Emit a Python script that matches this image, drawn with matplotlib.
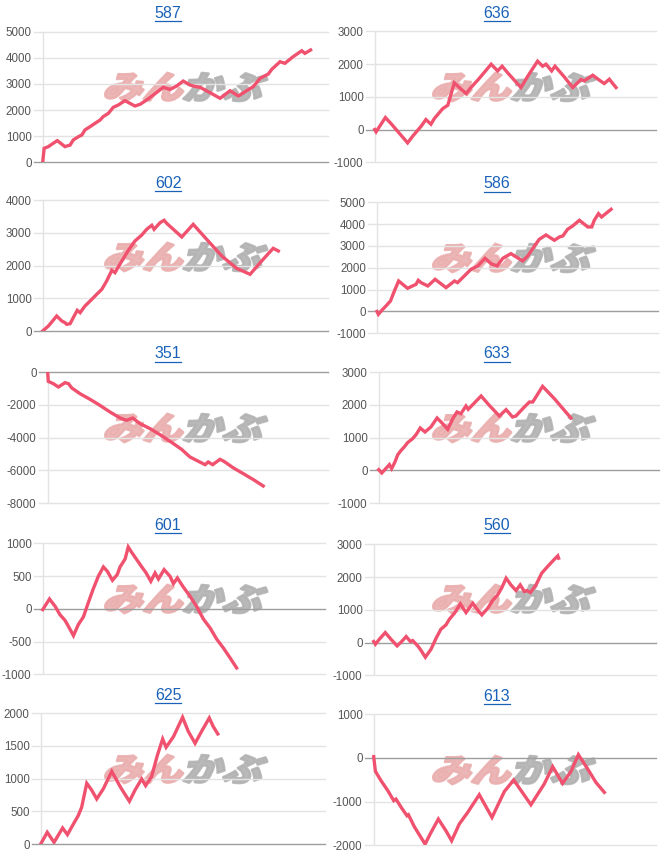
import matplotlib
matplotlib.use("Agg")
import matplotlib.pyplot as plt
from matplotlib.textpath import TextPath
from matplotlib.patches import PathPatch
from matplotlib.font_manager import FontProperties
from matplotlib.transforms import Affine2D, IdentityTransform
from matplotlib.lines import Line2D

# ---- data: cumulative result per chart (x = trade progress 0..100) ----
titles = ["587", "636", "602", "586", "351", "633", "601", "560", "625", "613"]

x587 = [0, 0.5, 2.0, 3.7, 5.1, 7.8, 9.6, 10.7, 12.5, 13.7, 14.8, 16.6, 18.3, 20.1, 21.2, 23.0,
        24.7, 26.5, 28.8, 32.3, 34.1, 36.4, 38.7, 42.2, 44.6, 46.9, 49.2, 51.6, 52.7, 55.1,
        58.6, 62.1, 65.6, 68.5, 71.4, 73.7, 76.1, 79.0, 80.2, 83.1, 84.8, 87.7, 90.7, 91.8, 93.8]
y587 = [0, 536, 600, 730, 830, 600, 660, 855, 980, 1045, 1240, 1365, 1490, 1620, 1750, 1875,
        2105, 2195, 2360, 2155, 2220, 2385, 2575, 2870, 2790, 2920, 3110, 2960, 2920, 2870,
        2665, 2450, 2740, 2540, 2740, 2895, 3215, 3380, 3560, 3850, 3790, 4045, 4270, 4170, 4300]

x636 = [0, 0.5, 2.0, 3.8, 5.8, 11.7, 13.5, 15.3, 16.5, 18.2, 20.0, 21.2, 24.2, 26.0, 28.3, 30.1,
        32.5, 34.2, 36.6, 41.4, 43.7, 45.3, 47.3, 52.0, 54.4, 57.9, 59.7, 60.9, 62.9, 64.1,
        67.4, 70.4, 73.3, 74.5, 77.5, 79.9, 81.6, 83.4, 85.8]
y636 = [0, -70, 130, 366, 183, -407, -204, -20, 100, 305, 163, 336, 641, 743, 1425, 1282,
        1099, 1282, 1506, 1995, 1791, 1934, 1730, 1282, 1628, 2087, 1934, 1995, 1791, 1934,
        1608, 1282, 1527, 1486, 1659, 1506, 1405, 1537, 1282]

x602 = [0, 2.0, 4.9, 6.7, 7.8, 8.4, 9.6, 10.7, 12.1, 13.1, 14.8, 16.6, 18.9, 20.7, 22.4, 24.2,
        25.3, 27.7, 30.0, 32.3, 34.7, 36.4, 38.2, 39.0, 41.1, 42.5, 43.4, 48.7, 52.7, 57.4,
        62.7, 67.9, 72.6, 77.2, 80.7, 82.5]
y602 = [0, 153, 459, 306, 255, 204, 224, 408, 633, 561, 765, 918, 1122, 1276, 1531, 1857,
        1786, 2143, 2469, 2755, 2939, 3112, 3235, 3112, 3316, 3388, 3296, 2878, 3265, 2806,
        2296, 1918, 1735, 2194, 2531, 2449]

x586 = [0, 0.5, 1.7, 3.2, 4.8, 6.2, 7.7, 10.9, 13.9, 14.7, 15.7, 18.1, 20.7, 24.6, 27.6, 28.7,
        30.5, 33.5, 35.9, 38.5, 40.6, 42.8, 44.8, 47.7, 51.9, 53.7, 56.1, 57.8, 60.2, 63.2,
        65.0, 66.2, 67.9, 69.7, 72.1, 75.1, 76.5, 77.4, 78.9, 80.0, 83.4]
y586 = [0, -130, 53, 252, 481, 939, 1397, 1061, 1244, 1427, 1321, 1168, 1473, 1092, 1397, 1321,
        1550, 1931, 2084, 2435, 2191, 2084, 2435, 2649, 2313, 2542, 2999, 3305, 3504, 3260,
        3413, 3458, 3764, 3916, 4176, 3870, 3870, 4176, 4481, 4328, 4679]

x351 = [0, 0.2, 2.0, 3.8, 6.2, 7.4, 8.6, 11.5, 15.1, 18.6, 22.2, 25.8, 28.1, 30.3, 32.9, 36.5,
        40.0, 43.6, 47.7, 50.7, 53.7, 56.1, 57.2, 58.8, 61.4, 62.8, 66.2, 69.7, 73.3, 76.8]
y351 = [0, -569, -711, -914, -650, -711, -975, -1320, -1665, -2030, -2437, -2802, -2944, -2802,
        -3147, -3452, -3817, -4223, -4711, -5178, -5442, -5645, -5482, -5645, -5320, -5442,
        -5848, -6193, -6558, -6944]

x633 = [0, 1.1, 2.3, 3.8, 4.6, 5.8, 6.8, 8.0, 9.1, 10.3, 12.1, 13.3, 14.8, 16.5, 18.6, 20.8,
        22.8, 24.6, 26.4, 27.9, 29.3, 31.1, 31.9, 33.5, 36.5, 39.4, 43.0, 45.4, 47.7, 48.9,
        51.9, 53.7, 54.9, 58.4, 62.6, 68.5]
y633 = [25, -76, 36, 178, 56, 259, 482, 614, 716, 848, 970, 1091, 1294, 1173, 1325, 1599,
        1426, 1254, 1579, 1782, 1731, 1964, 1863, 2005, 2269, 1985, 1660, 1853, 1629, 1660,
        1934, 2086, 2086, 2563, 2188, 1599]

x601 = [0, 2.4, 4.4, 6.1, 7.9, 9.1, 10.9, 12.6, 14.4, 16.2, 17.9, 19.7, 21.5, 22.9, 24.7, 26.4,
        27.4, 29.2, 30.3, 31.5, 33.3, 35.1, 36.5, 38.3, 39.8, 41.0, 43.0, 45.1, 46.3, 47.7,
        49.8, 52.2, 54.5, 56.9, 59.3, 61.6, 64.0, 66.4, 68.7]
y601 = [-13, 150, 38, -89, -176, -267, -410, -242, -125, 99, 303, 496, 639, 573, 435, 522,
        639, 761, 944, 863, 751, 639, 557, 420, 547, 455, 598, 496, 384, 471,
        333, 191, 38, -155, -293, -461, -598, -751, -903]

x560 = [0, 0.6, 2.0, 4.1, 6.1, 8.3, 9.9, 11.5, 13.0, 13.8, 15.6, 16.8, 18.3, 20.3, 22.1, 23.8,
        25.6, 26.8, 28.6, 30.7, 32.7, 35.1, 36.8, 38.3, 40.4, 42.1, 43.9, 45.3, 46.9, 48.6,
        50.4, 51.9, 53.4, 54.3, 55.5, 57.5, 59.5, 61.6, 63.8, 65.2, 65.5]
y560 = [31, -51, 102, 305, 102, -102, 31, 183, 31, 61, -102, -244, -448, -204, 132, 407,
        539, 712, 896, 1181, 916, 1201, 997, 845, 1048, 1282, 1455, 1659, 1964, 1761,
        1588, 1761, 1557, 1588, 1527, 1761, 2117, 2321, 2524, 2646, 2575]

x625 = [0, 2.3, 4.7, 7.7, 9.4, 11.5, 13.2, 14.4, 16.2, 17.9, 19.7, 22.0, 25.0, 28.1, 31.2, 33.2,
        35.5, 36.9, 39.0, 41.0, 42.9, 44.1, 46.7, 49.9, 51.9, 54.3, 56.6, 59.3, 60.7, 62.3]
y625 = [0, 179, 26, 245, 143, 306, 434, 561, 929, 827, 689, 842, 1112, 867, 653, 827,
        995, 893, 1031, 1352, 1607, 1480, 1643, 1939, 1724, 1541, 1724, 1929, 1796, 1684]

x613 = [0, 0.6, 2.6, 5.0, 7.1, 7.9, 9.9, 11.8, 12.3, 14.4, 18.2, 20.3, 22.9, 25.6, 27.6, 30.3,
        33.3, 37.4, 41.9, 46.3, 49.6, 55.7, 60.4, 63.4, 66.9, 69.9, 72.5, 75.8, 78.7, 81.7]
y613 = [25, -310, -523, -751, -980, -944, -1149, -1325, -1302, -1576, -1972, -1706, -1401,
        -1668, -1896, -1515, -1248, -844, -1363, -769, -508, -1073, -600, -204, -585, -310,
        71, -256, -561, -790]

yticks = [
    [0, 1000, 2000, 3000, 4000, 5000],
    [-1000, 0, 1000, 2000, 3000],
    [0, 1000, 2000, 3000, 4000],
    [-1000, 0, 1000, 2000, 3000, 4000, 5000],
    [-8000, -6000, -4000, -2000, 0],
    [-1000, 0, 1000, 2000, 3000],
    [-1000, -500, 0, 500, 1000],
    [-1000, 0, 1000, 2000, 3000],
    [0, 500, 1000, 1500, 2000],
    [-2000, -1000, 0, 1000],
]
series = [(x587, y587), (x636, y636), (x602, y602), (x586, y586), (x351, y351),
          (x633, y633), (x601, y601), (x560, y560), (x625, y625), (x613, y613)]

# ---- layout in pixels ----
W, H = 662, 855
vline = [42.7, 374.7, 42.7, 377, 47.7, 378.7, 42.7, 373.7, 40.7, 373.7]
right = [328.3, 656, 328.3, 657.7, 328.3, 659.3, 325, 656, 325, 656]
top = [31.7, 31.3, 200.3, 202.3, 372, 372, 543.3, 544.3, 713.3, 714]
bot = [162.3, 162.3, 331, 333.3, 503.3, 503.3, 674.3, 675.3, 844, 845.3]
title_y = [13, 13, 183, 184, 354, 354, 525, 525, 695, 696]

LINE = "#f0516e"
GRID = "#e3e3e3"
BASE = "#9e9e9e"
TICK = "#555555"
LINK = "#1a62b8"
FONT = "Liberation Sans"

fig = plt.figure(figsize=(W / 100, H / 100), dpi=100)
fig.patch.set_facecolor("white")

jp = FontProperties(family="Noto Sans CJK JP", weight="heavy")


def watermark(cx, cy):
    # pink "みん" + gray "かぶ", slanted, stretched a bit
    parts = [("みん", "#eaaeae", -40), ("かぶ", "#b2b2b2", 40)]
    for txt, col, dx in parts:
        tp = TextPath((0, 0), txt, size=1, prop=jp)
        ext = tp.get_extents()
        tr = (Affine2D().translate(-(ext.x0 + ext.x1) / 2, -(ext.y0 + ext.y1) / 2)
              .scale(40, 32).skew_deg(18, 0).translate(cx + dx, H - cy))
        p = PathPatch(tr.transform_path(tp), facecolor=col, edgecolor=col, lw=1.8,
                      joinstyle="round", alpha=0.9, zorder=-5, transform=IdentityTransform())
        fig.add_artist(p)


title_texts = []
for i in range(10):
    col = i % 2
    xs, ys = series[i]
    ticks = yticks[i]
    left_px = vline[i] - 9
    ax = fig.add_axes([left_px / W, 1 - bot[i] / H,
                       (right[i] - left_px) / W, (bot[i] - top[i]) / H])
    ax.set_facecolor("none")
    ax.set_xlim(-100 * 9 / (right[i] - vline[i]), 100)
    ax.set_ylim(ticks[0], ticks[-1])
    ax.set_yticks(ticks)
    ax.set_yticklabels([str(t) for t in ticks], fontfamily=FONT, fontsize=8.3, color=TICK)
    ax.set_xticks([])
    ax.tick_params(axis="y", length=0, pad=1.5)
    for s in ax.spines.values():
        s.set_visible(False)
    for t in ticks:
        ax.axhline(t, color=BASE if t == 0 else GRID, lw=1.0, zorder=1, clip_on=False)
    ax.axvline(0, color=GRID, lw=1.0, zorder=1)
    ax.plot(xs, ys, color=LINE, lw=2.4, zorder=3, solid_joinstyle="miter")

    cell_left = 0 if col == 0 else 331
    watermark(cell_left + (186 if col == 0 else 183), title_y[i] + 74)

    tx = cell_left + (168 if col == 0 else 166)
    t = fig.text(tx / W, 1 - title_y[i] / H, titles[i], ha="center", va="center",
                 fontfamily=FONT, fontsize=11.5, color=LINK)
    title_texts.append((t, title_y[i]))

# underline the titles (they are links)
fig.canvas.draw()
r = fig.canvas.get_renderer()
for t, ty in title_texts:
    bb = t.get_window_extent(renderer=r)
    yy = 1 - (ty + 8) / H
    fig.add_artist(Line2D([bb.x0 / W, bb.x1 / W], [yy, yy], color=LINK, lw=0.9))

fig.savefig("out.png", dpi=100, facecolor="white")
